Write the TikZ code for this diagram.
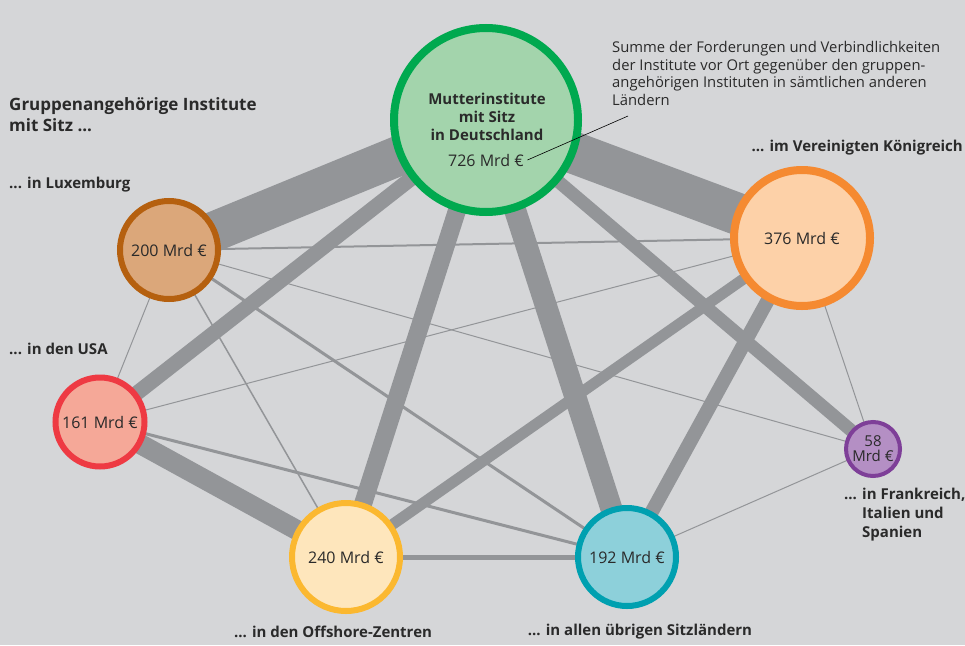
\documentclass[tikz,border=0pt]{standalone}
\usepackage{fontspec}
\setmainfont{Open Sans}
\usetikzlibrary{backgrounds}
\definecolor{bgc}{HTML}{D5D6D8}
\definecolor{edgec}{HTML}{939598}
\definecolor{txt}{HTML}{2A2A2A}
\definecolor{mutF}{HTML}{A3D4AC}\definecolor{mutD}{HTML}{00A94F}
\definecolor{luxF}{HTML}{DBA77A}\definecolor{luxD}{HTML}{B5600F}
\definecolor{usaF}{HTML}{F5A898}\definecolor{usaD}{HTML}{EE3A43}
\definecolor{offF}{HTML}{FEE6BC}\definecolor{offD}{HTML}{FBB830}
\definecolor{uebF}{HTML}{8DD0DA}\definecolor{uebD}{HTML}{00A0B0}
\definecolor{ukF}{HTML}{FDD1A8}\definecolor{ukD}{HTML}{F58A31}
\definecolor{fisF}{HTML}{B48FC4}\definecolor{fisD}{HTML}{7E3F98}
\begin{document}
\begin{tikzpicture}[x=1pt,y=-1pt,
  circ/.style={circle, inner sep=0pt, text=txt, font=\fontsize{16}{18}\selectfont},
  lbl/.style={text=txt, inner sep=0pt, font=\bfseries\fontsize{15}{19}\selectfont},
  conn/.style={draw=edgec, line cap=butt}]
\useasboundingbox (0,0) rectangle (965,645);
% circles
\node[circ, fill=mutF, draw=mutD, line width=8, minimum size=184] (mut) at (486,120) {};
\node[circ, fill=luxF, draw=luxD, line width=6, minimum size=98] (lux) at (169,250) {200 Mrd €};
\node[circ, fill=usaF, draw=usaD, line width=6, minimum size=89] (usa) at (100,422) {161 Mrd €};
\node[circ, fill=offF, draw=offD, line width=6, minimum size=108] (off) at (346,557) {240 Mrd €};
\node[circ, fill=uebF, draw=uebD, line width=6, minimum size=98] (ueb) at (627,557) {192 Mrd €};
\node[circ, fill=ukF, draw=ukD, line width=8, minimum size=136] (uk) at (802,238) {376 Mrd €};
\node[circ, fill=fisF, draw=fisD, line width=4, minimum size=54, align=center, font=\fontsize{15}{15}\selectfont] (fis) at (873,449) {58\\Mrd €};
% text in the parent circle
\node[lbl, align=center, font=\bfseries\fontsize{15}{18}\selectfont] (mutT) at (487,117) {Mutterinstitute\\mit Sitz\\in Deutschland};
\node[circ, font=\fontsize{16}{18}\selectfont] (mutV) at (486,160) {726 Mrd €};
% connectors
\begin{scope}[on background layer]
\fill[bgc] (0,0) rectangle (965,645);
\draw[conn, line width=40] (mut.center) -- (lux.center);
\draw[conn, line width=42] (mut.center) -- (uk.center);
\draw[conn, line width=15] (mut.center) -- (usa.center);
\draw[conn, line width=18] (mut.center) -- (off.center);
\draw[conn, line width=22] (mut.center) -- (ueb.center);
\draw[conn, line width=13] (mut.center) -- (fis.center);
\draw[conn, line width=14] (uk.center) -- (ueb.center);
\draw[conn, line width=11] (uk.center) -- (off.center);
\draw[conn, line width=20] (usa.center) -- (off.center);
\draw[conn, line width=5] (off.center) -- (ueb.center);
\draw[conn, line width=3] (usa.center) -- (ueb.center);
\draw[conn, line width=3] (lux.center) -- (ueb.center);
\draw[conn, line width=2] (lux.center) -- (uk.center);
\draw[conn, line width=1.5] (lux.center) -- (off.center);
\draw[conn, line width=1] (lux.center) -- (fis.center);
\draw[conn, line width=1] (usa.center) -- (uk.center);
\draw[conn, line width=1] (uk.center) -- (fis.center);
\draw[conn, line width=1] (ueb.center) -- (fis.center);
\draw[conn, line width=1] (lux.center) -- (usa.center);
\end{scope}
% labels
\node[lbl, anchor=west, align=left, font=\bfseries\fontsize{17}{21}\selectfont] (title) at (9,114.5) {Gruppenangehörige Institute\\mit Sitz ...};
\node[lbl, anchor=west] (luxL) at (9,185) {... in Luxemburg};
\node[lbl, anchor=west] (usaL) at (9,349) {... in den USA};
\node[lbl, anchor=east] (ukL) at (963,148) {... im Vereinigten Königreich};
\node[lbl, anchor=west, align=left] (fisL) at (862,515) {\llap{... }in Frankreich,\\Italien und\\Spanien};
\node[lbl] (offL) at (333,632) {... in den Offshore-Zentren};
\node[lbl] (uebL) at (640,632) {... in allen übrigen Sitzländern};
\node[text=txt, inner sep=0pt, anchor=west, align=left, font=\fontsize{14.8}{17.5}\selectfont] (ann) at (612,73.5) {Summe der Forderungen und Verbindlichkeiten\\der Institute vor Ort gegenüber den gruppen-\\angehörigen Instituten in sämtlichen anderen\\Ländern};
\coordinate (lead) at (628,116);
\draw[black, line width=0.6] ([xshift=3pt]mutV.east) -- (lead);
\end{tikzpicture}
\end{document}
